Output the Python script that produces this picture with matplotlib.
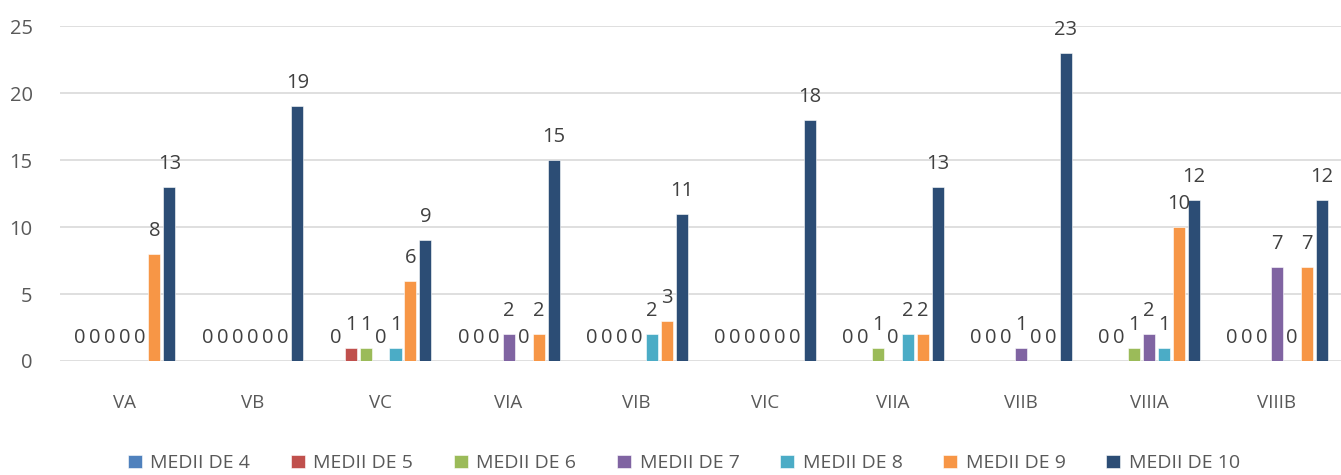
import matplotlib
matplotlib.use("Agg")
import matplotlib.pyplot as plt
import numpy as np

categories = ["VA", "VB", "VC", "VIA", "VIB", "VIC", "VIIA", "VIIB", "VIIIA", "VIIIB"]
series_names = ["MEDII DE 4", "MEDII DE 5", "MEDII DE 6", "MEDII DE 7",
                "MEDII DE 8", "MEDII DE 9", "MEDII DE 10"]
medii_4 = [0, 0, 0, 0, 0, 0, 0, 0, 0, 0]
medii_5 = [0, 0, 1, 0, 0, 0, 0, 0, 0, 0]
medii_6 = [0, 0, 1, 0, 0, 0, 1, 0, 1, 0]
medii_7 = [0, 0, 0, 2, 0, 0, 0, 1, 2, 7]
medii_8 = [0, 0, 1, 0, 2, 0, 2, 0, 1, 0]
medii_9 = [8, 0, 6, 2, 3, 0, 2, 0, 10, 7]
medii_10 = [13, 19, 9, 15, 11, 18, 13, 23, 12, 12]
colors = ["#4F81BD", "#C0504D", "#9BBB59", "#8064A2", "#4BACC6", "#F79646", "#2C4D75"]

all_series = [medii_4, medii_5, medii_6, medii_7, medii_8, medii_9, medii_10]

plt.rcParams['font.family'] = ['Open Sans', 'DejaVu Sans']

fig = plt.figure(figsize=(13.41, 4.75), dpi=100)
ax = fig.add_axes([0.045, 0.24, 0.955, 0.705])

x = np.arange(len(categories))
slot = 0.117
bw = 0.094
n = len(all_series)
for i, (name, vals, c) in enumerate(zip(series_names, all_series, colors)):
    pos = x + (i - (n - 1) / 2) * slot
    ax.bar(pos, vals, width=bw, color=c, label=name, zorder=3,
           edgecolor="white", linewidth=0.4)
    for xp, v in zip(pos, vals):
        ax.annotate(str(v), (xp, v), xytext=(0, 13), textcoords="offset points",
                    ha="center", va="baseline", fontsize=14.5, color="#404040",
                    zorder=4)

ax.set_xlim(-0.5, len(categories) - 0.5)
ax.set_ylim(0, 25)
ax.set_yticks([0, 5, 10, 15, 20, 25])
ax.set_xticks(x)
ax.set_xticklabels(categories)
ax.tick_params(axis="y", length=0, pad=20, labelsize=14.5, labelcolor="#595959")
ax.tick_params(axis="x", length=0, pad=24, labelsize=13.5, labelcolor="#595959")
for s in ax.spines.values():
    s.set_visible(False)
ax.yaxis.grid(True, color="#D9D9D9", linewidth=1.2, zorder=0)
ax.set_axisbelow(True)

leg = fig.legend(loc="center", bbox_to_anchor=(0.51, 0.025), ncol=7, frameon=False,
                 fontsize=14, handlelength=0.7, handleheight=0.7, handletextpad=0.45,
                 columnspacing=2.1)
for t in leg.get_texts():
    t.set_color("#595959")

fig.savefig("out.png", dpi=100)
